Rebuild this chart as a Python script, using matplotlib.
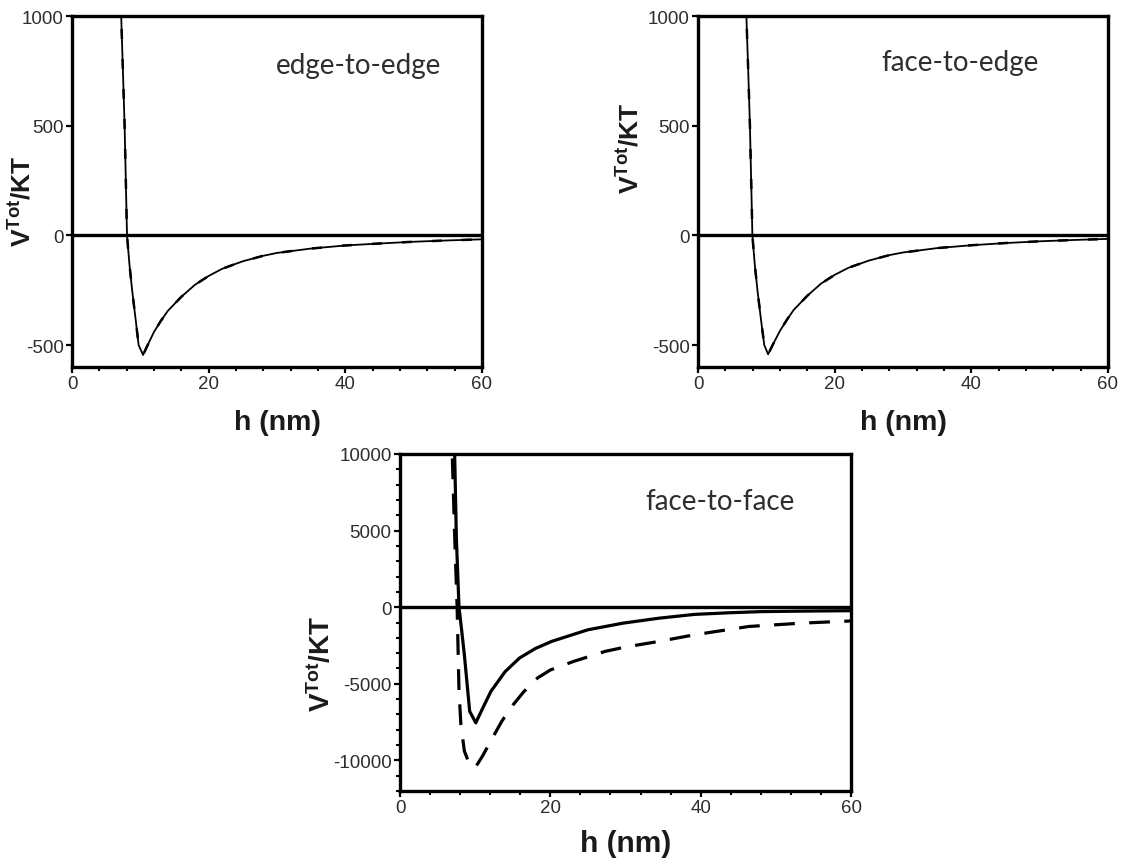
import matplotlib
matplotlib.use("Agg")
import matplotlib.pyplot as plt
from matplotlib.ticker import MultipleLocator

plt.rcParams['mathtext.default'] = 'regular'
plt.rcParams['axes.unicode_minus'] = False

# ---- data ----
h_ee = [7.0, 7.2, 7.45, 7.7, 8.05, 8.4, 8.8, 9.3, 9.75, 10.4, 11.0, 12.0, 13.0, 14.0, 16.0, 18.0, 20.0,
        22.0, 25.0, 28.0, 30.0, 35.0, 40.0, 45.0, 50.0, 55.0, 60.0]
v_ee = [1300, 1000, 750, 500, 0, -130, -250, -380, -500, -545, -505, -440, -390, -345, -280, -225, -185,
        -152, -118, -93, -80, -60, -46, -37, -29, -23, -18]

h_fe = [6.95, 7.08, 7.35, 7.6, 7.96, 8.3, 8.7, 9.2, 9.7, 10.26, 11.0, 12.0, 13.0, 14.0, 16.0, 18.0, 20.0,
        22.0, 25.0, 28.0, 30.0, 35.0, 40.0, 45.0, 50.0, 55.0, 60.0]
v_fe = [1300, 1000, 750, 500, 0, -130, -250, -380, -500, -542, -495, -435, -385, -340, -275, -220, -180,
        -148, -115, -90, -78, -58, -45, -35, -27, -21, -16]

h_ff_solid = [7.1, 7.27, 7.5, 7.85, 8.2, 8.56, 9.27, 10.08, 11.0, 12.1, 14.0, 15.9, 18.0, 20.2, 25.0,
              29.7, 34.5, 39.2, 44.0, 48.0, 55.0, 60.0]
v_ff_solid = [12000, 10000, 4500, 0, -1500, -3100, -6800, -7550, -6600, -5490, -4200, -3320, -2700, -2230,
              -1475, -1040, -716, -470, -360, -290, -250, -230]

h_ff_dash = [6.8, 6.95, 7.25, 7.6, 7.85, 8.1, 8.56, 9.2, 10.0, 11.0, 12.0, 13.55, 15.0, 16.5, 18.3, 20.0,
             23.1, 27.3, 30.0, 34.5, 39.2, 46.4, 53.5, 60.0]
v_ff_dash = [12000, 10000, 5000, 0, -5490, -7650, -9390, -10200, -10480, -9700, -8800, -7440, -6400, -5500,
             -4620, -4100, -3540, -2885, -2600, -2230, -1800, -1260, -1040, -900]

panel_labels = ["edge-to-edge", "face-to-edge", "face-to-face"]
xticks = [0, 20, 40, 60]
yticks_top = [-500, 0, 500, 1000]
yticks_bot = [-10000, -5000, 0, 5000, 10000]

W, H = 1123, 862
fig = plt.figure(figsize=(W / 100, H / 100), dpi=100)

def ax_at(l, t, r, b):
    return fig.add_axes([l / W, 1 - b / H, (r - l) / W, (b - t) / H])

tick_family = ['Liberation Sans', 'DejaVu Sans']
label_font = dict(family=['Liberation Sans', 'DejaVu Sans'], fontweight='bold', color='#1a1a1a')
ann_font = dict(family=['Lato', 'Open Sans', 'DejaVu Sans'], fontsize=20, color='#2e2e2e')

def style(ax, yticks, ylim, yminor):
    ax.set_xlim(0, 60)
    ax.set_ylim(*ylim)
    ax.set_xticks(xticks)
    ax.set_yticks(yticks)
    ax.xaxis.set_minor_locator(MultipleLocator(4))
    if yminor:
        ax.yaxis.set_minor_locator(MultipleLocator(yminor))
    for s in ax.spines.values():
        s.set_linewidth(2.4)
    ax.tick_params(which='major', direction='out', length=4, width=1.6, labelsize=13.5,
                   labelcolor='#2e2e2e', pad=2)
    ax.tick_params(which='minor', direction='out', length=3, width=1.5)
    for lab in ax.get_xticklabels() + ax.get_yticklabels():
        lab.set_family(tick_family)
    ax.axhline(0, color='black', lw=2.4, zorder=1)

# top-left
ax1 = ax_at(72, 17, 482, 368)
ax1.plot(h_ee, v_ee, color='black', lw=1.3, zorder=3)
ax1.plot(h_ee, v_ee, color='black', lw=1.8, ls=(0, (4, 8)), zorder=3)
style(ax1, yticks_top, (-600, 1000), None)
ax1.set_xlabel("h (nm)", fontsize=20.5, **label_font)
ax1.set_ylabel("V$^{Tot}$/KT", fontsize=19, **label_font)
ax1.xaxis.set_label_coords(0.5, -0.12)
ax1.yaxis.set_label_coords(-0.088, 0.475)
ax1.text(0.70, 0.86, panel_labels[0], transform=ax1.transAxes, ha='center', va='center', **ann_font)

# top-right
ax2 = ax_at(698, 17, 1108, 368)
ax2.plot(h_fe, v_fe, color='black', lw=1.3, zorder=3)
ax2.plot(h_fe, v_fe, color='black', lw=1.8, ls=(0, (4, 8)), zorder=3)
style(ax2, yticks_top, (-600, 1000), None)
ax2.set_xlabel("h (nm)", fontsize=20.5, **label_font)
ax2.set_ylabel("V$^{Tot}$/KT", fontsize=19, **label_font)
ax2.xaxis.set_label_coords(0.5, -0.12)
ax2.yaxis.set_label_coords(-0.132, 0.625)
ax2.text(0.64, 0.87, panel_labels[1], transform=ax2.transAxes, ha='center', va='center', **ann_font)

# bottom
ax3 = ax_at(400, 455, 851, 792)
ax3.plot(h_ff_solid, v_ff_solid, color='black', lw=2.3, zorder=3)
ax3.plot(h_ff_dash, v_ff_dash, color='black', lw=2.3, ls=(0, (6.5, 4.5)), zorder=3)
style(ax3, yticks_bot, (-12000, 10000), 1000)
ax3.set_xlabel("h (nm)", fontsize=21.5, **label_font)
ax3.set_ylabel("V$^{Tot}$/KT", fontsize=20, **label_font)
ax3.xaxis.set_label_coords(0.5, -0.113)
ax3.yaxis.set_label_coords(-0.142, 0.38)
ax3.text(0.71, 0.86, panel_labels[2], transform=ax3.transAxes, ha='center', va='center', **ann_font)

fig.savefig("out.png", dpi=100, facecolor='white')
